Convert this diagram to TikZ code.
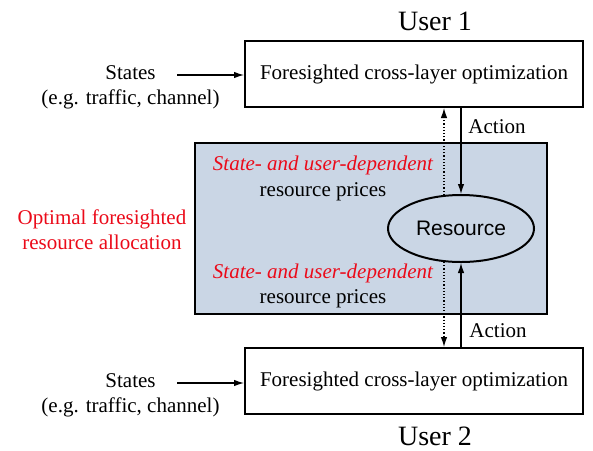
\documentclass[tikz,border=0pt]{standalone}
\usepackage{fontspec}
\setmainfont{Liberation Serif}
\newfontfamily\sansf{Liberation Sans}
\usetikzlibrary{arrows.meta,shapes.geometric,calc}
\definecolor{panelblue}{RGB}{202,214,229}
\definecolor{redtxt}{RGB}{235,10,25}
\tikzset{
  fs/.style={font=\fontsize{21}{25}\selectfont},
  box/.style={draw,line width=2pt,minimum width=338pt,minimum height=66pt,inner sep=0pt,fs},
  panel/.style={draw,line width=2pt,fill=panelblue,minimum width=352pt,minimum height=171pt,inner sep=0pt},
  resnode/.style={ellipse,draw,line width=2pt,fill=panelblue,minimum width=146pt,minimum height=67pt,inner sep=0pt,font=\sansf\fontsize{21}{25}\selectfont},
  lbl/.style={fs,inner sep=0pt,align=center},
  userl/.style={font=\fontsize{28}{32}\selectfont,inner sep=0pt,anchor=base,text depth=0pt},
  redl/.style={fs,inner sep=0pt,text=redtxt,align=center},
  arr/.style={line width=1.2pt,-{Latex[length=10pt,width=6.5pt]}},
  darr/.style={line width=1.2pt,dotted,-{Latex[length=10pt,width=6.5pt]}},
}
\begin{document}
\begin{tikzpicture}[x=1pt,y=-1pt]
\useasboundingbox (0,0) rectangle (593,450);
\node[panel] (panel) at (371,228.5) {};
\node[box] (top) at (414,74) {Foresighted cross-layer optimization};
\node[box] (bot) at (414,381) {Foresighted cross-layer optimization};
\node[userl] (u1) at (435,30) {User 1};
\node[userl] (u2) at (435,445) {User 2};
\node[resnode] (res) at (461,228.5) {Resource};
% states
\node[lbl] (s1) at (130.5,73) {States};
\node[lbl] (e1) at (130.5,99) {(e.g. traffic, channel)};
\node[lbl] (s2) at (130.5,381) {States};
\node[lbl] (e2) at (130.5,407) {(e.g. traffic, channel)};
\coordinate (s1a) at (177,75);
\coordinate (s2a) at (177,383);
\draw[arr] (s1a) -- (s1a -| top.west);
\draw[arr] (s2a) -- (s2a -| bot.west);
% red texts
\node[redl] (p1) at (323,165) {\itshape State- and user-dependent};
\node[lbl] (r1) at (323,192) {resource prices};
\node[redl] (p2) at (323,273) {\itshape State- and user-dependent};
\node[lbl] (r2) at (323,299) {resource prices};
\node[redl] (opt) at (102,230) {Optimal foresighted\\resource allocation};
% actions
\node[lbl] (a1) at (497,127) {Action};
\node[lbl] (a2) at (498,331) {Action};
\draw[arr] (top.south -| res.north) -- (res.north);
\draw[arr] (bot.north -| res.south) -- (res.south);
\coordinate (dt) at ($(res.north)+(-17,1)$);
\coordinate (db) at ($(res.south)+(-17,-1)$);
\draw[darr] (dt) -- (dt |- top.south);
\draw[darr] (db) -- (db |- bot.north);
\end{tikzpicture}
\end{document}
